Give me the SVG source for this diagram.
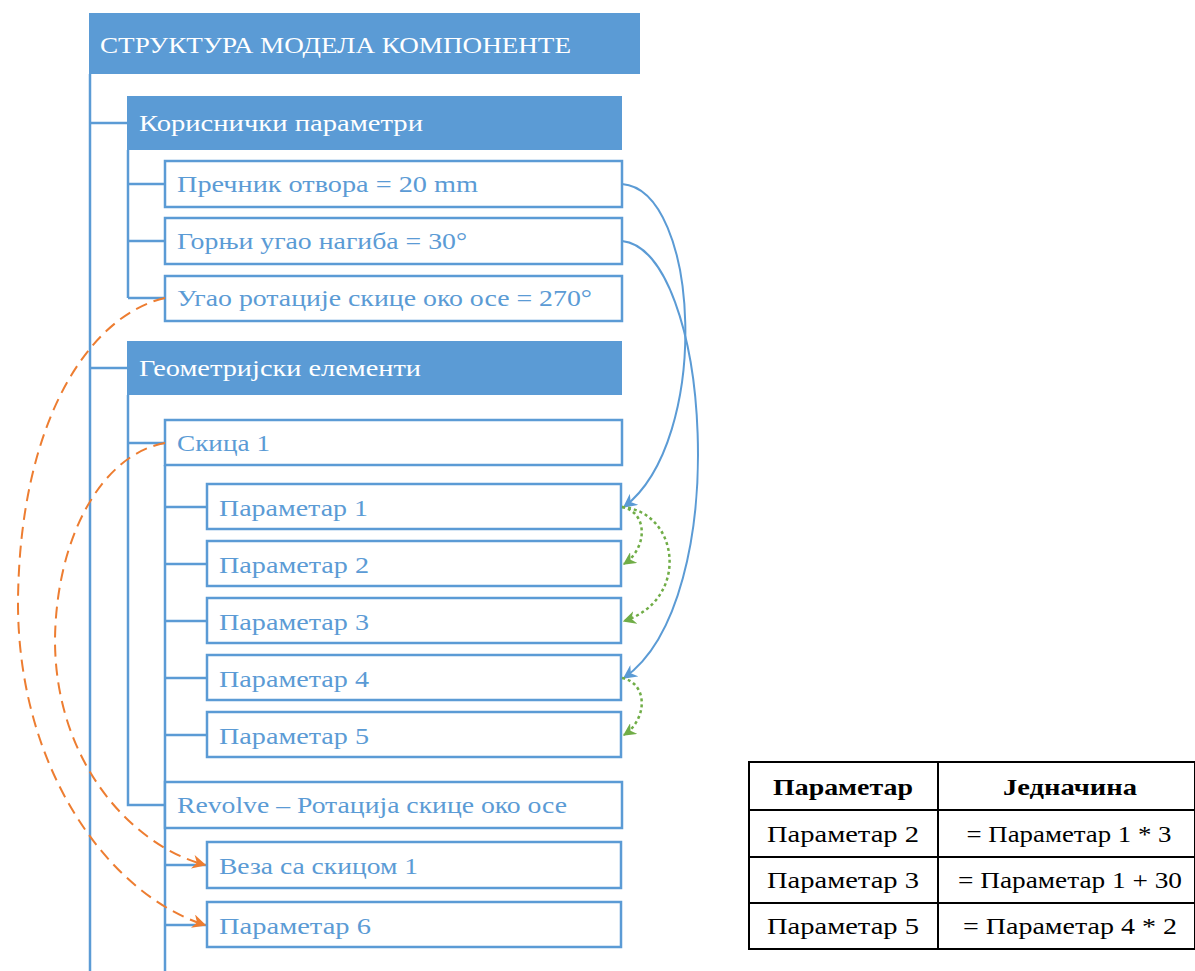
<svg xmlns="http://www.w3.org/2000/svg" width="1195" height="971" viewBox="0 0 1195 971">
<style>
.hdr{fill:#5B9BD5}
.box{fill:#fff;stroke:#5B9BD5;stroke-width:2.5}
.tree{stroke:#5B9BD5;stroke-width:2.5;fill:none}
.wt{font-family:"Liberation Serif",serif;font-size:24px;fill:#fff}
.bt{font-family:"Liberation Serif",serif;font-size:24px;fill:#5B9BD5}
.blue{stroke:#5B9BD5;stroke-width:2;fill:none}
.green{stroke:#70AD47;stroke-width:2.5;fill:none;stroke-dasharray:3 3}
.orange{stroke:#ED7D31;stroke-width:2;fill:none;stroke-dasharray:12 7}
.tbl{fill:#fff;stroke:#000;stroke-width:2}
.tl{stroke:#000;stroke-width:2}
.tt{font-family:"Liberation Serif",serif;font-size:23px;fill:#000;text-anchor:middle}
</style>
<defs>
<marker id="ab" viewBox="0 0 10 10" refX="9" refY="5" markerWidth="14" markerHeight="14" markerUnits="userSpaceOnUse" orient="auto"><path d="M0,0 L10,5 L0,10 L3,5 z" fill="#5B9BD5"/></marker>
<marker id="ag" viewBox="0 0 10 10" refX="9" refY="5" markerWidth="13" markerHeight="13" markerUnits="userSpaceOnUse" orient="auto"><path d="M0,0 L10,5 L0,10 L3,5 z" fill="#70AD47"/></marker>
<marker id="ao" viewBox="0 0 10 10" refX="9" refY="5" markerWidth="14" markerHeight="14" markerUnits="userSpaceOnUse" orient="auto"><path d="M0,0 L10,5 L0,10 L3,5 z" fill="#ED7D31"/></marker>
</defs>

<g id="tree-lines">
<path class="tree" d="M90,74 V971 M90,123 H127 M90,368 H127"/>
<path class="tree" d="M128,150 V298 M128,184 H165 M128,241 H165 M128,298 H165"/>
<path class="tree" d="M128,395 V805 H165 M128,443 H165"/>
<path class="tree" d="M165,465 V971 M165,507 H207 M165,564 H207 M165,621 H207 M165,678 H207 M165,735 H207 M165,865 H207 M165,925 H207"/>
</g>

<g id="root"><rect class="hdr" x="89" y="13" width="551" height="61"/><text class="wt" x="100" y="53" textLength="471" lengthAdjust="spacingAndGlyphs">СТРУКТУРА МОДЕЛА КОМПОНЕНТЕ</text></g>
<g id="user-params"><rect class="hdr" x="127" y="96" width="495" height="54"/><text class="wt" x="139" y="131" textLength="284" lengthAdjust="spacingAndGlyphs">Кориснички параметри</text></g>
<g id="p-diam"><rect class="box" x="165" y="161" width="457" height="46"/><text class="bt" x="177" y="192" textLength="301" lengthAdjust="spacingAndGlyphs">Пречник отвора = 20 mm</text></g>
<g id="p-angle"><rect class="box" x="165" y="218" width="457" height="46"/><text class="bt" x="177" y="249" textLength="290" lengthAdjust="spacingAndGlyphs">Горњи угао нагиба = 30°</text></g>
<g id="p-rot"><rect class="box" x="165" y="276" width="457" height="45"/><text class="bt" x="177" y="306" textLength="415" lengthAdjust="spacingAndGlyphs">Угао ротације скице око осе = 270°</text></g>
<g id="geom"><rect class="hdr" x="127" y="341" width="495" height="54"/><text class="wt" x="139" y="376" textLength="282" lengthAdjust="spacingAndGlyphs">Геометријски елементи</text></g>
<g id="sketch1"><rect class="box" x="165" y="420" width="457" height="45"/><text class="bt" x="177" y="451" textLength="93" lengthAdjust="spacingAndGlyphs">Скица 1</text></g>
<g id="param1"><rect class="box" x="207" y="484" width="414" height="45"/><text class="bt" x="219" y="516" textLength="149" lengthAdjust="spacingAndGlyphs">Параметар 1</text></g>
<g id="param2"><rect class="box" x="207" y="541" width="414" height="45"/><text class="bt" x="219" y="573" textLength="150" lengthAdjust="spacingAndGlyphs">Параметар 2</text></g>
<g id="param3"><rect class="box" x="207" y="598" width="414" height="45"/><text class="bt" x="219" y="630" textLength="150" lengthAdjust="spacingAndGlyphs">Параметар 3</text></g>
<g id="param4"><rect class="box" x="207" y="655" width="414" height="45"/><text class="bt" x="219" y="687" textLength="150" lengthAdjust="spacingAndGlyphs">Параметар 4</text></g>
<g id="param5"><rect class="box" x="207" y="712" width="414" height="45"/><text class="bt" x="219" y="744" textLength="150" lengthAdjust="spacingAndGlyphs">Параметар 5</text></g>
<g id="revolve"><rect class="box" x="165" y="782" width="457" height="46"/><text class="bt" x="177" y="813" textLength="390" lengthAdjust="spacingAndGlyphs">Revolve – Ротација скице око осе</text></g>
<g id="link-sketch"><rect class="box" x="207" y="842" width="414" height="46"/><text class="bt" x="219" y="874" textLength="199" lengthAdjust="spacingAndGlyphs">Веза са скицом 1</text></g>
<g id="param6"><rect class="box" x="207" y="902" width="414" height="45"/><text class="bt" x="219" y="934" textLength="152" lengthAdjust="spacingAndGlyphs">Параметар 6</text></g>

<g id="connectors">
<path class="blue" d="M622,184 C700,190 712,440 624,507" marker-end="url(#ab)"/>
<path class="blue" d="M622,241 C710,250 735,600 624,678" marker-end="url(#ab)"/>
<path class="green" d="M622,507 C648,512 648,548 624,564" marker-end="url(#ag)"/>
<path class="green" d="M622,507 C680,512 690,600 624,621" marker-end="url(#ag)"/>
<path class="green" d="M622,678 C648,683 648,719 624,735" marker-end="url(#ag)"/>
<path class="orange" d="M165,298 C90,315 20,420 18,600 C17,770 110,895 205,925" marker-end="url(#ao)"/>
<path class="orange" d="M165,443 C100,455 56,540 55,640 C55,760 130,845 205,865" marker-end="url(#ao)"/>
</g>

<g id="table">
<rect class="tbl" x="749" y="762" width="446" height="187"/>
<line class="tl" x1="938" y1="762" x2="938" y2="949"/>
<line class="tl" x1="749" y1="810" x2="1195" y2="810"/>
<line class="tl" x1="749" y1="857" x2="1195" y2="857"/>
<line class="tl" x1="749" y1="903" x2="1195" y2="903"/>
<text class="tt" x="843" y="795" font-weight="bold" textLength="140" lengthAdjust="spacingAndGlyphs">Параметар</text>
<text class="tt" x="1070" y="795" font-weight="bold" textLength="134" lengthAdjust="spacingAndGlyphs">Једначина</text>
<text class="tt" x="843" y="842" textLength="152" lengthAdjust="spacingAndGlyphs">Параметар 2</text>
<text class="tt" x="1069" y="842" textLength="205" lengthAdjust="spacingAndGlyphs">= Параметар 1 * 3</text>
<text class="tt" x="1070" y="888" textLength="224" lengthAdjust="spacingAndGlyphs">= Параметар 1 + 30</text>
<text class="tt" x="843" y="888" textLength="152" lengthAdjust="spacingAndGlyphs">Параметар 3</text>
<text class="tt" x="843" y="934" textLength="152" lengthAdjust="spacingAndGlyphs">Параметар 5</text>
<text class="tt" x="1070" y="934" textLength="214" lengthAdjust="spacingAndGlyphs">= Параметар 4 * 2</text>
</g>
</svg>
